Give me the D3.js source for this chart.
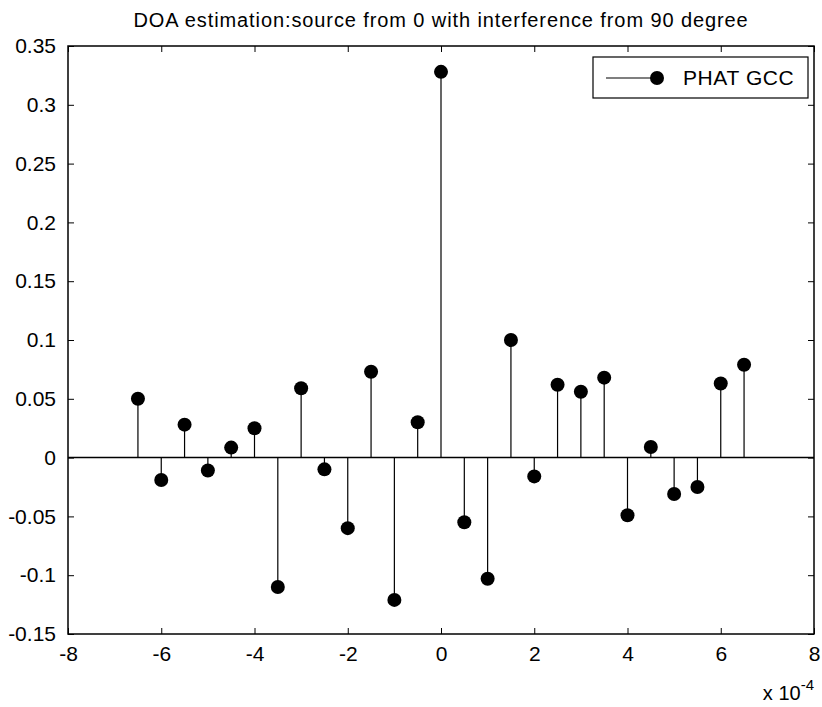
<!DOCTYPE html>
<html>
<head>
<meta charset="utf-8">
<script src="https://cdn.jsdelivr.net/npm/d3@7"></script>
<style>
  html, body { margin: 0; padding: 0; background: #fff; }
  svg { display: block; }
  text { font-family: "Liberation Sans", Arial, Helvetica, sans-serif; fill: #000; }
</style>
</head>
<body>
<svg id="chart" width="822" height="707"></svg>
<script>
// Lag positions (units of 1e-4 s) and PHAT-weighted GCC values
const lags = [-6.5, -6, -5.5, -5, -4.5, -4, -3.5, -3, -2.5, -2, -1.5, -1, -0.5, 0,
              0.5, 1, 1.5, 2, 2.5, 3, 3.5, 4, 4.5, 5, 5.5, 6, 6.5];
const gccValues = [0.050, -0.019, 0.028, -0.011, 0.0085, 0.025, -0.110, 0.059, -0.010, -0.060,
                   0.073, -0.121, 0.030, 0.328, -0.055, -0.103, 0.100, -0.016, 0.062, 0.056,
                   0.068, -0.049, 0.009, -0.031, -0.025, 0.063, 0.079];

const xTicks = [-8, -6, -4, -2, 0, 2, 4, 6, 8];
const xTickLabels = ["-8", "-6", "-4", "-2", "0", "2", "4", "6", "8"];
const yTicks = [-0.15, -0.1, -0.05, 0, 0.05, 0.1, 0.15, 0.2, 0.25, 0.3, 0.35];
const yTickLabels = ["-0.15", "-0.1", "-0.05", "0", "0.05", "0.1", "0.15", "0.2", "0.25", "0.3", "0.35"];

const titleText = "DOA estimation:source from 0 with interference from 90 degree";
const legendLabel = "PHAT GCC";

const svg = d3.select("#chart");
const margin = { left: 68, top: 46, right: 8, bottom: 73 };
const W = 822, H = 707;
const iw = W - margin.left - margin.right;
const ih = H - margin.top - margin.bottom;

const x = d3.scaleLinear().domain([-8, 8]).range([0, iw]);
const y = d3.scaleLinear().domain([-0.15, 0.35]).range([ih, 0]);

const g = svg.append("g").attr("transform", `translate(${margin.left},${margin.top})`);

// Axes with inward ticks on all four sides
const fontSize = 21;
function styleAxis(sel) {
  sel.select(".domain").remove();
  sel.selectAll(".tick line").attr("stroke", "#000").attr("stroke-width", 1);
  sel.selectAll(".tick text").style("font-size", fontSize + "px");
}

g.append("g").attr("transform", `translate(0,${ih})`)
  .call(d3.axisBottom(x).tickValues(xTicks).tickSizeInner(-6).tickSizeOuter(0).tickPadding(12)
    .tickFormat((d, i) => xTickLabels[i]))
  .call(styleAxis);
g.append("g")
  .call(d3.axisTop(x).tickValues(xTicks).tickSizeInner(-6).tickSizeOuter(0).tickFormat(""))
  .call(styleAxis);
g.append("g")
  .call(d3.axisLeft(y).tickValues(yTicks).tickSizeInner(-6).tickSizeOuter(0).tickPadding(12)
    .tickFormat((d, i) => yTickLabels[i]))
  .call(styleAxis);
g.append("g").attr("transform", `translate(${iw},0)`)
  .call(d3.axisRight(y).tickValues(yTicks).tickSizeInner(-6).tickSizeOuter(0).tickFormat(""))
  .call(styleAxis);

// Plot frame
g.append("rect").attr("x", 0).attr("y", 0).attr("width", iw).attr("height", ih)
  .attr("fill", "none").attr("stroke", "#000").attr("stroke-width", 1.5);

// Zero baseline
g.append("line")
  .attr("x1", 0).attr("x2", iw).attr("y1", y(0)).attr("y2", y(0))
  .attr("stroke", "#000").attr("stroke-width", 1.5);

const pts = lags.map((l, i) => ({ lag: l, v: gccValues[i] }));

// Stems
g.selectAll(".stem").data(pts).join("line")
  .attr("class", "stem")
  .attr("x1", d => x(d.lag)).attr("x2", d => x(d.lag))
  .attr("y1", y(0)).attr("y2", d => y(d.v))
  .attr("stroke", "#000").attr("stroke-width", 1.2);

// Markers
g.selectAll(".mark").data(pts).join("circle")
  .attr("class", "mark")
  .attr("cx", d => x(d.lag)).attr("cy", d => y(d.v))
  .attr("r", 7).attr("fill", "#000");

// Title
svg.append("text")
  .attr("x", margin.left + iw / 2).attr("y", 27)
  .attr("text-anchor", "middle")
  .style("font-size", "20px")
  .style("letter-spacing", "0.9px")
  .text(titleText);

// Exponent label for the x axis
const expo = svg.append("text")
  .attr("x", W - 8).attr("y", 700)
  .attr("text-anchor", "end")
  .style("font-size", "20px");
expo.append("tspan").text("x 10");
expo.append("tspan").attr("dy", -10).style("font-size", "15px").text("-4");

// Legend
const lg = svg.append("g").attr("transform", "translate(593,57)");
lg.append("rect").attr("width", 215).attr("height", 41)
  .attr("fill", "#fff").attr("stroke", "#000").attr("stroke-width", 1.2);
lg.append("line").attr("x1", 13).attr("x2", 64).attr("y1", 21).attr("y2", 21)
  .attr("stroke", "#000").attr("stroke-width", 1.2);
lg.append("circle").attr("cx", 64).attr("cy", 21).attr("r", 7).attr("fill", "#000");
lg.append("text").attr("x", 90).attr("y", 28).style("font-size", fontSize + "px")
  .style("letter-spacing", "0.6px").text(legendLabel);
</script>
</body>
</html>
